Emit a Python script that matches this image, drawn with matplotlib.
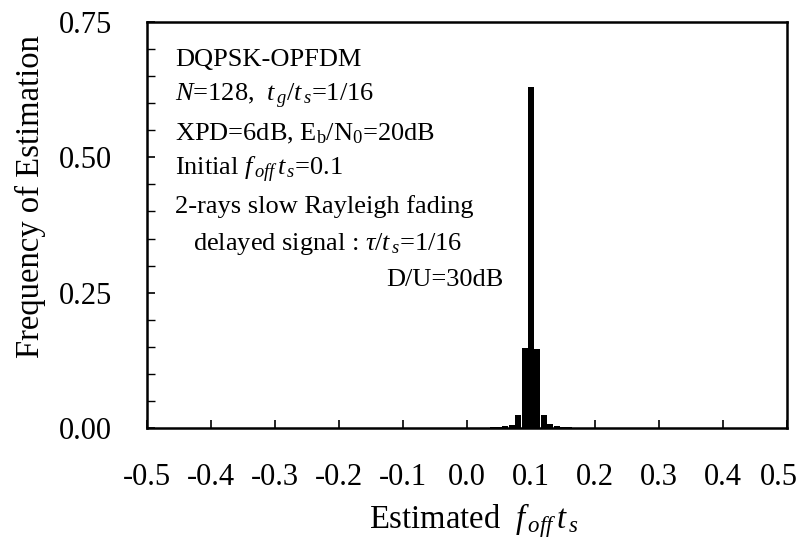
import numpy as np
import matplotlib
matplotlib.use('Agg')
import matplotlib.pyplot as plt
from matplotlib.ticker import MultipleLocator
from matplotlib.transforms import ScaledTranslation

plt.rcParams['font.family'] = 'Liberation Serif'
plt.rcParams['mathtext.fontset'] = 'custom'
plt.rcParams['mathtext.rm'] = 'Liberation Serif'
plt.rcParams['mathtext.it'] = 'Liberation Serif:italic'
plt.rcParams['mathtext.bf'] = 'Liberation Serif:bold'

# histogram of the estimated offset (bin centres, relative frequency)
bin_centers = [0.04, 0.05, 0.06, 0.07, 0.08, 0.09, 0.10, 0.11, 0.12, 0.13, 0.14, 0.15, 0.16]
frequency = [0.001, 0.002, 0.003, 0.005, 0.024, 0.148, 0.63, 0.146, 0.024, 0.007, 0.003, 0.002, 0.001]

x_ticks = [-0.5, -0.4, -0.3, -0.2, -0.1, 0.0, 0.1, 0.2, 0.3, 0.4, 0.5]
y_ticks = [0.0, 0.25, 0.5, 0.75]

conditions = [
    'DQPSK-OPFDM',
    r'$N$=128,  $t_{\,g}/t_{\,s}$=1/16',
    r'XPD=6dB, E$_\mathrm{b}$/N$_\mathrm{0}$=20dB',
    r'Initial $f_{\,off}\,t_{\,s}$=0.1',
    '2-rays slow Rayleigh fading',
]
delayed_line = r'delayed signal : $\tau/t_{\,s}$=1/16'
du_line = 'D/U=30dB'

fig = plt.figure(figsize=(8.02, 5.54), dpi=100)
ax = fig.add_axes([0.1833, 0.2274, 0.7980, 0.7329])

ax.bar(bin_centers, frequency, width=0.0092, color='black', edgecolor='none')

ax.set_xlim(-0.5, 0.5)
ax.set_ylim(0, 0.75)
ax.set_xticks(x_ticks)
ax.set_xticklabels([f'{v:.1f}' for v in x_ticks])
ax.set_yticks(y_ticks)
ax.set_yticklabels([f'{v:.2f}' for v in y_ticks])
ax.yaxis.set_minor_locator(MultipleLocator(0.05))
ax.tick_params(axis='both', which='both', direction='in', labelsize=22,
               top=False, right=False)
ax.tick_params(axis='both', which='major', length=6, width=1.2, pad=25)
ax.tick_params(axis='y', which='minor', length=6, width=1.0)
for side in ax.spines.values():
    side.set_linewidth(1.8)

# pull the last x label in a little so it stays inside the figure
last = ax.get_xticklabels()[-1]
last.set_transform(last.get_transform()
                   + ScaledTranslation(-6 / 72, 0, fig.dpi_scale_trans))

ax.set_ylabel('Frequency of Estimation', fontsize=23.5)
ax.yaxis.set_label_coords(-0.182, 0.571)
ax.yaxis.label.set_va('center')
ax.set_xlabel(r'Estimated  $f_{\,off}\,t_{\,s}$', fontsize=23.5)
ax.xaxis.set_label_coords(0.51, -0.227)
ax.xaxis.label.set_va('center')

line_step = 0.0904
top_line = 0.906
for i, line in enumerate(conditions):
    ax.text(0.0436, top_line - i * line_step, line, transform=ax.transAxes,
            fontsize=19, va='center', ha='left')
ax.text(0.0717, top_line - 5 * line_step, delayed_line, transform=ax.transAxes,
        fontsize=19, va='center', ha='left')
ax.text(0.5575, top_line - 6 * line_step, du_line, transform=ax.transAxes,
        fontsize=19, va='center', ha='right')

fig.savefig('out.png', dpi=100)
